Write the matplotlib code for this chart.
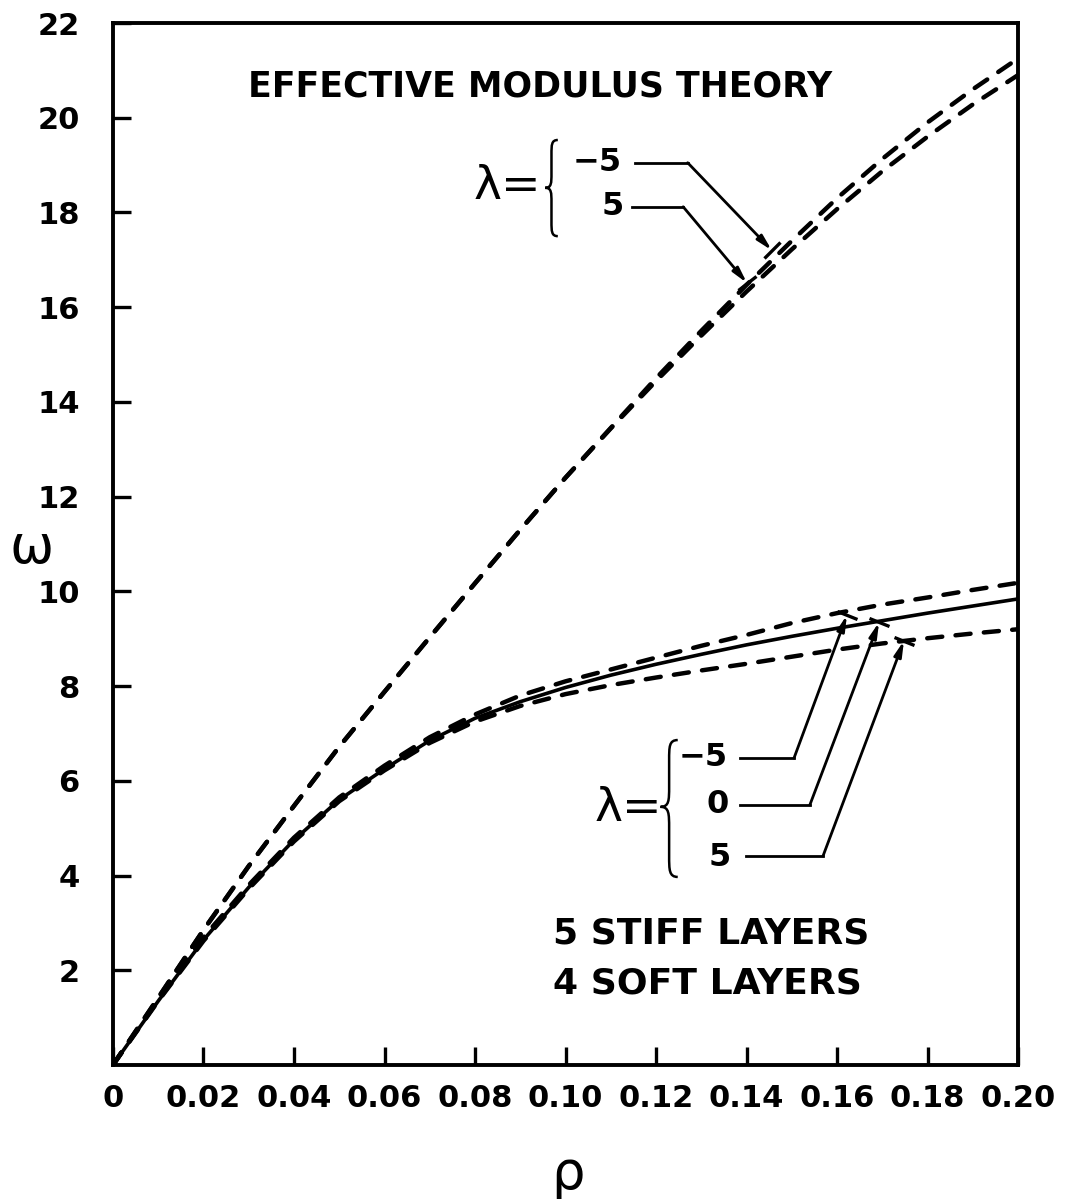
import numpy as np
import matplotlib
matplotlib.use('Agg')
import matplotlib.pyplot as plt
from matplotlib.path import Path
from matplotlib.patches import PathPatch
from matplotlib.markers import MarkerStyle
from matplotlib.transforms import Affine2D

plt.rcParams['font.family'] = ['DejaVu Sans']
plt.rcParams['font.weight'] = 'bold'

# data
rho = [0.00, 0.01, 0.02, 0.03, 0.04, 0.05, 0.06, 0.07, 0.08, 0.09, 0.10,
       0.11, 0.12, 0.13, 0.14, 0.15, 0.16, 0.17, 0.18, 0.19, 0.20]

# effective modulus theory
emt_neg5 = [0, 1.42, 2.85, 4.2, 5.47, 6.72, 7.88, 9.03, 10.17, 11.3, 12.4,
            13.45, 14.5, 15.5, 16.47, 17.4, 18.3, 19.13, 19.9, 20.6, 21.25]
emt_pos5 = [0, 1.42, 2.85, 4.2, 5.47, 6.72, 7.88, 9.03, 10.17, 11.3, 12.4,
            13.44, 14.44, 15.4, 16.33, 17.22, 18.07, 18.87, 19.6, 20.28, 20.9]

# 5 stiff / 4 soft layers
lay_neg5 = [0, 1.38, 2.7, 3.8, 4.8, 5.65, 6.32, 6.92, 7.4, 7.8, 8.1,
            8.35, 8.6, 8.85, 9.08, 9.33, 9.54, 9.72, 9.87, 10.03, 10.18]
lay_zero = [0, 1.35, 2.64, 3.75, 4.75, 5.6, 6.25, 6.85, 7.32, 7.67, 7.97,
            8.23, 8.46, 8.67, 8.87, 9.05, 9.22, 9.38, 9.54, 9.69, 9.84]
lay_pos5 = [0, 1.35, 2.62, 3.72, 4.72, 5.57, 6.22, 6.8, 7.25, 7.58, 7.83,
            8.02, 8.18, 8.33, 8.47, 8.62, 8.77, 8.9, 9.01, 9.11, 9.2]

xticks = [0, 0.02, 0.04, 0.06, 0.08, 0.10, 0.12, 0.14, 0.16, 0.18, 0.20]
xtick_labels = ['0', '0.02', '0.04', '0.06', '0.08', '0.10', '0.12', '0.14',
                '0.16', '0.18', '0.20']
yticks = [2, 4, 6, 8, 10, 12, 14, 16, 18, 20, 22]

fig = plt.figure(figsize=(10.68, 11.99), dpi=100)
ax = fig.add_axes([0.1058, 0.1118, 0.8474, 0.869])

dash_kw = dict(color='black', lw=3.2, dashes=(3.4, 3.0), dash_capstyle='round')
ax.plot(rho, emt_neg5, **dash_kw)
ax.plot(rho, emt_pos5, **dash_kw)
ax.plot(rho, lay_neg5, **dash_kw)
ax.plot(rho, lay_pos5, **dash_kw)
ax.plot(rho, lay_zero, color='black', lw=2.6, solid_capstyle='round')

ax.set_xlim(0, 0.20)
ax.set_ylim(0, 22)
ax.set_xticks(xticks)
ax.set_xticklabels(xtick_labels)
ax.set_yticks(yticks)
ax.tick_params(direction='in', length=13, width=2.4, labelsize=22)
ax.tick_params(axis='x', pad=14)
ax.tick_params(axis='y', pad=24)
for s in ax.spines.values():
    s.set_linewidth(2.8)

ax.set_ylabel('ω', rotation=0, fontsize=38, fontweight='normal', va='center', ha='center')
ax.yaxis.set_label_coords(-0.09, 0.496)
ax.set_xlabel('ρ', fontsize=38, fontweight='normal', va='center', ha='center')
ax.xaxis.set_label_coords(0.503, -0.105)

ax.text(0.0299, 20.67, 'EFFECTIVE MODULUS THEORY', fontsize=25, ha='left', va='center')
ax.text(0.0972, 2.77, '5 STIFF LAYERS', fontsize=26, ha='left', va='center')
ax.text(0.0972, 1.71, '4 SOFT LAYERS', fontsize=26, ha='left', va='center')


def brace(xl, xr, yb, yt, ym):
    xc = (xl + xr) / 2
    ut = yt - ym
    lb = ym - yb
    verts = [(xr, yt),
             (xc, yt), (xc, yt - 0.1 * ut), (xc, yt - 0.3 * ut),
             (xc, ym + 0.3 * ut),
             (xc, ym + 0.1 * ut), (xc, ym), (xl, ym),
             (xc, ym), (xc, ym - 0.1 * lb), (xc, ym - 0.3 * lb),
             (xc, yb + 0.3 * lb),
             (xc, yb + 0.1 * lb), (xc, yb), (xr, yb)]
    codes = [Path.MOVETO] + [Path.CURVE4] * 3 + [Path.LINETO] + [Path.CURVE4] * 6 \
        + [Path.LINETO] + [Path.CURVE4] * 3
    ax.add_patch(PathPatch(Path(verts, codes), fc='none', ec='black', lw=1.8))


def leader(x0, x1, y, tip):
    # horizontal run from the label, then an arrow to the curve
    ax.plot([x0, x1], [y, y], color='black', lw=2)
    ax.annotate('', xy=tip, xytext=(x1, y),
                arrowprops=dict(arrowstyle='-|>,head_length=0.9,head_width=0.22',
                                color='black', lw=2, shrinkA=0, shrinkB=0))
    p0 = ax.transData.transform((x1, y))
    p1 = ax.transData.transform(tip)
    ang = np.degrees(np.arctan2(p1[1] - p0[1], p1[0] - p0[0])) + 90
    ax.plot([tip[0]], [tip[1]], marker=MarkerStyle('_', transform=Affine2D().rotate_deg(ang)),
            ms=16, mew=2.4, color='black')


fig.canvas.draw()

# upper group
ax.text(0.0871, 18.54, 'λ=', fontsize=34, fontweight='normal', ha='center', va='center')
brace(0.0955, 0.0983, 17.5, 19.53, 18.52)
ax.text(0.107, 19.05, '−5', fontsize=23, ha='center', va='center')
ax.text(0.1105, 18.12, '5', fontsize=23, ha='center', va='center')
leader(0.1154, 0.127, 19.05, (0.1456, 17.2))
leader(0.1147, 0.126, 18.12, (0.1401, 16.51))

# lower group
ax.text(0.1138, 5.41, 'λ=', fontsize=34, fontweight='normal', ha='center', va='center')
brace(0.121, 0.1248, 3.97, 6.86, 5.45)
ax.text(0.1304, 6.5, '−5', fontsize=23, ha='center', va='center')
ax.text(0.1337, 5.49, '0', fontsize=23, ha='center', va='center')
ax.text(0.134, 4.37, '5', fontsize=23, ha='center', va='center')
leader(0.1386, 0.1505, 6.48, (0.1622, 9.5))
leader(0.1386, 0.154, 5.49, (0.1693, 9.35))
leader(0.1399, 0.1569, 4.41, (0.1748, 8.96))

fig.savefig('out.png', dpi=100)
